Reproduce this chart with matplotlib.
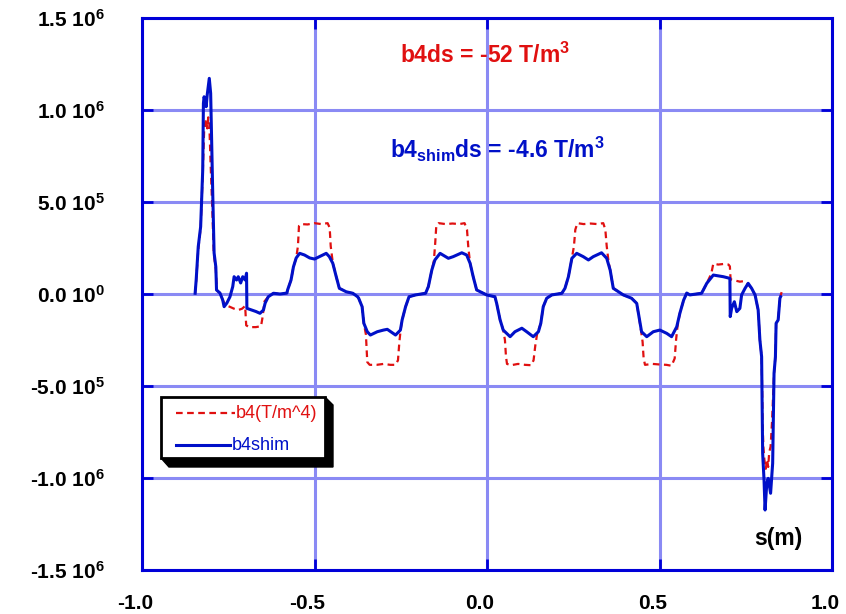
import matplotlib
matplotlib.use("Agg")
import matplotlib.pyplot as plt
import matplotlib.transforms as mtransforms
from matplotlib.patches import Polygon, Rectangle
from matplotlib.lines import Line2D
import numpy as np

plt.rcParams['font.family'] = ['Liberation Sans', 'DejaVu Sans']
plt.rcParams['mathtext.fontset'] = 'custom'
plt.rcParams['mathtext.rm'] = 'Liberation Sans:bold'
plt.rcParams['mathtext.bf'] = 'Liberation Sans:bold'
plt.rcParams['mathtext.default'] = 'bf'

# s (m) and b4 (in units of 1e3 T/m^4)
s_b4 = [-0.846, -0.843, -0.837, -0.830, -0.824, -0.820, -0.817, -0.814, -0.811, -0.808,
        -0.805, -0.801, -0.797, -0.792, -0.786, -0.783, -0.774, -0.766, -0.758, -0.745,
        -0.733, -0.721, -0.710, -0.701, -0.698, -0.690, -0.670, -0.655, -0.650, -0.645,
        -0.634, -0.619, -0.600, -0.580,
        -0.578, -0.568, -0.561, -0.553, -0.548, -0.545, -0.540, -0.520, -0.500, -0.480,
        -0.462, -0.456, -0.453, -0.447, -0.437, -0.428, -0.408, -0.389, -0.375,
        -0.372, -0.362, -0.357, -0.351, -0.349, -0.347, -0.340, -0.320, -0.300, -0.280,
        -0.265, -0.258, -0.254, -0.250, -0.246, -0.236, -0.226, -0.207, -0.178,
        -0.170, -0.160, -0.154, -0.150, -0.147, -0.140, -0.120, -0.100, -0.080, -0.065,
        -0.058, -0.054, -0.049, -0.040, -0.030, -0.001, 0.023,
        0.028, 0.038, 0.047, 0.052, 0.055, 0.058, 0.070, 0.090, 0.110, 0.128,
        0.135, 0.140, 0.145, 0.156, 0.163, 0.173, 0.188, 0.217,
        0.226, 0.236, 0.246, 0.252, 0.256, 0.262, 0.280, 0.300, 0.320, 0.337,
        0.343, 0.347, 0.352, 0.357, 0.366, 0.395, 0.419,
        0.434, 0.445, 0.451, 0.454, 0.458, 0.480, 0.500, 0.520, 0.535, 0.544,
        0.548, 0.552, 0.559, 0.570, 0.579,
        0.588, 0.622, 0.637, 0.650, 0.656, 0.670, 0.685, 0.700, 0.704, 0.706,
        0.715, 0.733, 0.745, 0.755, 0.767, 0.777, 0.786, 0.791, 0.796, 0.799,
        0.801, 0.804, 0.808, 0.812, 0.815, 0.818, 0.822, 0.826, 0.832, 0.836,
        0.838, 0.844, 0.849, 0.854]
b4 = [4, 70, 240, 360, 650, 880, 930, 950, 900, 960,
      930, 700, 500, 220, 130, 20, 5, -33, -60, -70,
      -80, -87, -80, -65, -170, -180, -180, -175, -120, -40,
      -15, 4, 0, 5,
      22, 76, 148, 196, 260, 370, 380, 378, 385, 380,
      385, 360, 260, 170, 94, 31, 12, 4, -15,
      -23, -69, -159, -220, -300, -370, -385, -385, -380, -385,
      -385, -360, -260, -190, -141, -69, -15, -5, 4,
      40, 130, 180, 280, 370, 385, 380, 383, 380, 385,
      350, 250, 167, 94, 22, -5, -15,
      -51, -141, -196, -250, -340, -380, -387, -380, -385, -387,
      -360, -280, -220, -159, -69, -23, -5, 4,
      31, 94, 194, 260, 350, 385, 380, 383, 380, 385,
      350, 260, 180, 130, 31, -5, -23,
      -51, -180, -260, -350, -385, -380, -383, -385, -390, -350,
      -250, -178, -105, -33, 5,
      -5, 4, 58, 110, 165, 160, 163, 160, 150, 80,
      75, 67, 70, 55, 31, -5, -87, -250, -341, -700,
      -830, -900, -950, -900, -940, -860, -830, -700, -431, -341,
      -159, -141, -23, 10]

# s (m) and b4shim (in units of 1e3 T/m^4)
s_shim = [-0.846, -0.843, -0.837, -0.830, -0.824, -0.822, -0.820, -0.814, -0.811, -0.805,
          -0.801, -0.798, -0.795, -0.791, -0.786, -0.784, -0.774, -0.766, -0.762, -0.754,
          -0.745, -0.737, -0.733, -0.726, -0.721, -0.714, -0.708, -0.701, -0.697, -0.696,
          -0.682, -0.670, -0.658, -0.648, -0.643, -0.634, -0.619, -0.600, -0.580,
          -0.578, -0.568, -0.561, -0.553, -0.543, -0.529, -0.514, -0.500, -0.486, -0.466,
          -0.457, -0.447, -0.437, -0.428, -0.408, -0.389, -0.375,
          -0.372, -0.362, -0.357, -0.347, -0.338, -0.318, -0.300, -0.289, -0.265, -0.251,
          -0.246, -0.236, -0.226, -0.207, -0.178,
          -0.170, -0.160, -0.151, -0.136, -0.112, -0.098, -0.073, -0.059, -0.049, -0.040,
          -0.030, -0.001, 0.023,
          0.028, 0.038, 0.047, 0.067, 0.081, 0.101, 0.115, 0.134, 0.149, 0.156,
          0.163, 0.173, 0.188, 0.217,
          0.226, 0.236, 0.246, 0.260, 0.279, 0.294, 0.308, 0.332, 0.347, 0.357,
          0.366, 0.395, 0.419,
          0.434, 0.448, 0.463, 0.482, 0.501, 0.521, 0.535, 0.550, 0.559, 0.570,
          0.579,
          0.588, 0.622, 0.637, 0.656, 0.685, 0.704, 0.705, 0.709, 0.717, 0.724,
          0.733, 0.738, 0.748, 0.757, 0.767, 0.777, 0.786, 0.791, 0.796, 0.799,
          0.803, 0.806, 0.811, 0.815, 0.822, 0.828, 0.832, 0.836, 0.838, 0.844,
          0.849, 0.851]
b4shim = [4, 76, 257, 366, 674, 1036, 1072, 1018, 1082, 1172,
          1091, 821, 549, 223, 147, 22, 5, -33, -69, -49,
          -15, 40, 94, 76, 94, 60, 94, 76, 113, -78,
          -87, -95, -105, -87, -49, -15, 4, 0, 5,
          22, 76, 148, 196, 221, 212, 196, 190, 203, 221,
          203, 167, 94, 31, 12, 4, -15,
          -23, -69, -159, -205, -223, -205, -196, -192, -223, -196,
          -141, -69, -15, -5, 4,
          40, 130, 185, 221, 194, 203, 224, 212, 167, 94,
          22, -5, -15,
          -51, -141, -196, -232, -205, -186, -205, -232, -205, -159,
          -69, -23, -5, 4,
          31, 94, 194, 221, 203, 185, 203, 224, 194, 130,
          31, -5, -23,
          -51, -205, -232, -205, -196, -214, -232, -178, -105, -33,
          5,
          -5, 4, 58, 103, 94, 85, -123, -78, -42, -96,
          -78, -5, 31, 58, 31, -5, -87, -250, -341, -866,
          -1011, -1174, -1029, -1002, -1083, -920, -431, -341, -159, -141,
          -23, -15]

x_ticks = [-1.0, -0.5, 0.0, 0.5, 1.0]
x_labels = ["-1.0", "-0.5", "0.0", "0.5", "1.0"]
y_ticks = [-1.5e6, -1.0e6, -5.0e5, 0.0, 5.0e5, 1.0e6, 1.5e6]
y_labels = ["-1.5 10$^{6}$", "-1.0 10$^{6}$", "-5.0 10$^{5}$", "0.0 10$^{0}$",
            "5.0 10$^{5}$", "1.0 10$^{6}$", "1.5 10$^{6}$"]

spine_blue = '#0000d8'
grid_blue = '#8a8af4'
red = '#e01010'
blue = '#0010c8'

fig = plt.figure(figsize=(8.46, 6.14), dpi=100)
ax = fig.add_axes([142 / 846, 1 - 570 / 614, 690 / 846, 552 / 614])

ax.plot(s_b4, np.array(b4) * 1e3, color=red, lw=1.6, dashes=(3, 2), zorder=3)
ax.plot(s_shim, np.array(b4shim) * 1e3, color=blue, lw=2.2, zorder=4)

ax.set_xlim(-1.0, 1.0)
ax.set_ylim(-1.5e6, 1.5e6)
ax.set_xticks(x_ticks)
ax.set_xticklabels(x_labels)
ax.set_yticks(y_ticks)
ax.set_yticklabels(y_labels)
ax.grid(True, color=grid_blue, lw=2.2, zorder=1)
ax.set_axisbelow(True)

for sp in ax.spines.values():
    sp.set_color(spine_blue)
    sp.set_linewidth(2.2)

ax.tick_params(axis='both', direction='in', length=8, width=2, color=spine_blue,
               top=True, right=True, labelsize=15)
ax.tick_params(axis='y', pad=27)
ax.tick_params(axis='x', pad=17)
for lab in ax.get_xticklabels() + ax.get_yticklabels():
    lab.set_fontweight('bold')
    lab.set_color('black')
shift = mtransforms.ScaledTranslation(-7 / 100, 0, fig.dpi_scale_trans)
for lab in ax.get_xticklabels():
    lab.set_transform(lab.get_transform() + shift)

# integrated values
ax.text(0.374, 0.918, "b4ds = -52 T/m$^{3}$", transform=ax.transAxes,
        color=red, fontsize=16.5, fontweight='bold', zorder=6)
ax.text(0.360, 0.746, "b4$_{shim}$ds = -4.6 T/m$^{3}$", transform=ax.transAxes,
        color=blue, fontsize=16.5, fontweight='bold', zorder=6)
ax.text(0.888, 0.045, "s(m)", transform=ax.transAxes,
        color='black', fontsize=16.5, fontweight='bold', zorder=6)

# legend box with 3d shadow
shadow = Polygon([[0.2652, 0.3134], [0.2768, 0.2989], [0.2768, 0.1866],
                  [0.0391, 0.1866], [0.0275, 0.2029], [0.2652, 0.2029]],
                 closed=True, transform=ax.transAxes, facecolor='black',
                 edgecolor='black', zorder=7)
ax.add_patch(shadow)
box = Rectangle((0.0275, 0.2029), 0.2377, 0.1105, transform=ax.transAxes,
                facecolor='white', edgecolor='black', lw=2, zorder=8)
ax.add_patch(box)
ax.add_line(Line2D([0.0493, 0.1348], [0.2844, 0.2844], transform=ax.transAxes,
                   color=red, lw=1.6, dashes=(3, 2), zorder=9))
ax.text(0.1362, 0.2844, "b4(T/m^4)", transform=ax.transAxes, color=red,
        fontsize=13, va='center', zorder=9)
ax.add_line(Line2D([0.0493, 0.1275], [0.2264, 0.2264], transform=ax.transAxes,
                   color=blue, lw=2.2, zorder=9))
ax.text(0.1304, 0.2264, "b4shim", transform=ax.transAxes, color=blue,
        fontsize=13, va='center', zorder=9)

fig.savefig("out.png", dpi=100)
